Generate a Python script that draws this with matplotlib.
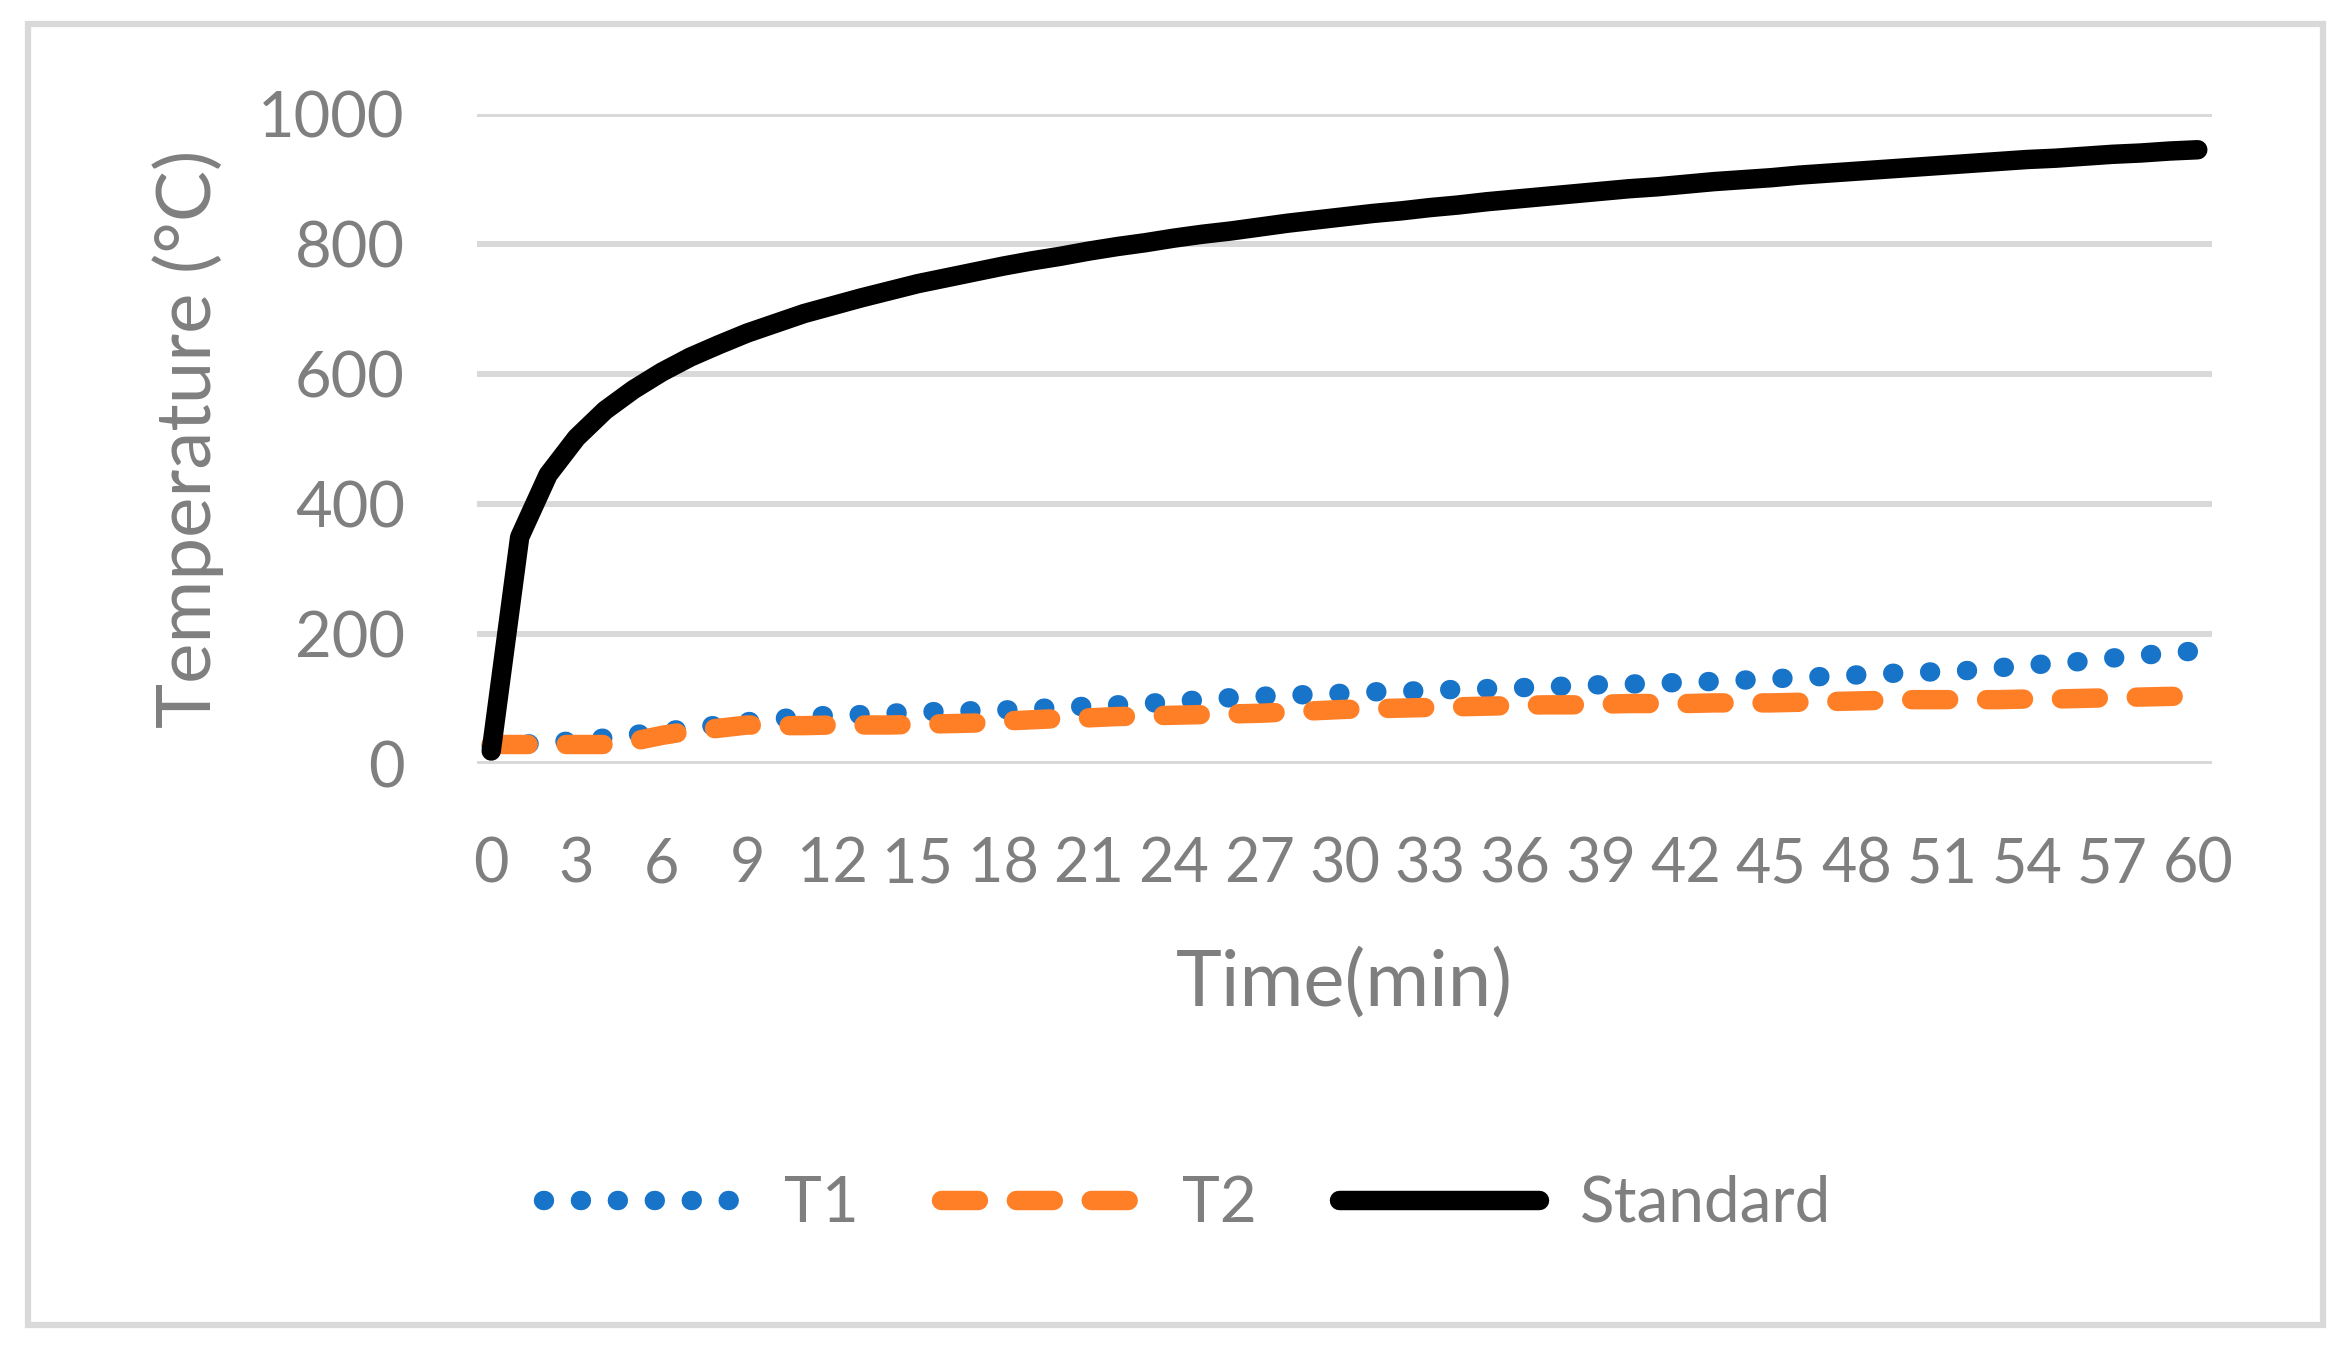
import matplotlib
matplotlib.use("Agg")
import matplotlib.pyplot as plt
from matplotlib.patches import Rectangle

time_min = list(range(0, 61))
t1 = [28, 30, 33, 36, 40, 45, 50, 55, 60, 65, 69, 73, 75, 76, 78, 80, 81, 82, 83, 85,
      87, 89, 91, 93, 96, 99, 102, 104, 106, 107, 109, 111, 112, 113, 115, 116, 117, 119,
      120, 122, 123, 124, 126, 127, 129, 131, 133, 135, 137, 139, 141, 142, 144, 148, 152,
      155, 158, 163, 167, 171, 174]
t2 = [30, 30, 30, 30, 30, 35, 44, 51, 55, 60, 59, 59, 60, 60, 60, 61, 62, 63, 66, 68,
      70, 71, 73, 74, 75, 76, 77, 78, 80, 82, 84, 85, 86, 87, 88, 89, 90, 91, 91, 92, 93,
      93, 93, 94, 94, 94, 95, 96, 97, 98, 99, 99, 99, 99, 100, 100, 101, 102, 103, 104, 105]
standard = [20, 349, 445, 502, 544, 576, 603, 626, 645, 663, 678, 693, 705, 717, 728, 739,
            748, 757, 766, 774, 781, 789, 796, 802, 809, 815, 820, 826, 832, 837, 842, 847,
            851, 856, 860, 865, 869, 873, 877, 881, 885, 888, 892, 896, 899, 902, 906, 909,
            912, 915, 918, 921, 924, 927, 930, 932, 935, 938, 940, 943, 945]
xtick_vals = list(range(0, 61, 3))
ytick_vals = [0, 200, 400, 600, 800, 1000]

GREY = '#7f7f7f'
plt.rcParams['font.family'] = ['Lato', 'DejaVu Sans']

W, H = 2352, 1356
fig = plt.figure(figsize=(W / 100, H / 100), dpi=100)
ax = fig.add_axes([477 / W, 1 - 764 / H, (2212 - 477) / W, (764 - 114) / H])

lw = 14
l1, = ax.plot(time_min, t1, color='#1874c8', lw=lw, dashes=(0.05, 1.85),
              dash_capstyle='round', label='T1', zorder=3)
l2, = ax.plot(time_min, t2, color='#ff7f27', lw=lw, dashes=(1.9, 1.95),
              dash_capstyle='round', label='T2', zorder=4)
l3, = ax.plot(time_min, standard, color='black', lw=lw, solid_capstyle='round',
              solid_joinstyle='round', label='Standard', zorder=5)

ax.set_xlim(-0.5, 60.5)
ax.set_ylim(0, 1000)
ax.set_xticks(xtick_vals)
ax.set_xticklabels([str(v) for v in xtick_vals])
ax.set_yticks(ytick_vals)
ax.set_yticklabels([str(v) for v in ytick_vals])
ax.tick_params(axis='both', length=0, labelsize=44, labelcolor=GREY)
ax.tick_params(axis='y', pad=52, labelsize=45.5)
ax.tick_params(axis='x', pad=52)
for s in ax.spines.values():
    s.set_visible(False)
ax.grid(axis='y', color='#d9d9d9', lw=4.3)
ax.set_axisbelow(True)

ax.set_xlabel('Time(min)', fontsize=56, color=GREY)
ax.set_ylabel('Temperature (°C)', fontsize=55, color=GREY)
ax.xaxis.set_label_coords(0.5, (764 - 984) / 650, transform=ax.transAxes)
ax.yaxis.set_label_coords((188 - 477) / 1735, 0.5, transform=ax.transAxes)
ax.xaxis.label.set_va('center')
ax.yaxis.label.set_va('center')

leg = fig.legend(handles=[l1, l2, l3], loc='center', bbox_to_anchor=(1187 / W, 1 - 1204 / H),
                 ncol=3, frameon=False, fontsize=46, handlelength=3.13,
                 handletextpad=0.65, columnspacing=1.28)
for t in leg.get_texts():
    t.set_color(GREY)

fig.patches.append(Rectangle((27.5 / W, 1 - 1325 / H), (2323 - 27.5) / W, (1325 - 24) / H,
                             transform=fig.transFigure, fill=False, edgecolor='#d9d9d9',
                             lw=4.5))

fig.savefig('out.png', dpi=100)
